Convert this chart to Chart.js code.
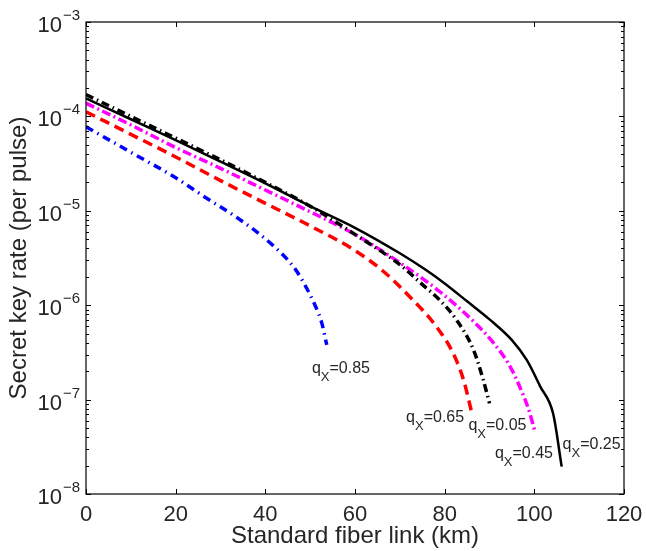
<!DOCTYPE html>
<html>
<head>
<meta charset="utf-8">
<title>Secret key rate vs fiber length</title>
<script src="https://cdn.jsdelivr.net/npm/chart.js@4.4.1/dist/chart.umd.min.js"></script>
<style>
  html,body{margin:0;padding:0;background:#fff}
  #wrap{width:646px;height:551px;position:relative}
</style>
</head>
<body>
<div id="wrap"><canvas id="c"></canvas></div>
<script>
'use strict';

// ─── Data ─────────────────────────────────────────────────────────────────────
const km025   = [0, 10, 20, 30, 40, 50, 60, 70, 75.6, 80, 85, 90, 95, 98.3, 101.3, 104.2, 106.1];
const rate025 = [1.55e-4, 9.33e-5, 5.62e-5, 3.31e-5, 1.95e-5, 1.12e-5, 6.61e-6, 3.55e-6, 2.40e-6, 1.70e-6, 1.10e-6, 7.08e-7, 4.27e-7, 2.63e-7, 1.38e-7, 7.08e-8, 1.95e-8];

const km005   = [0, 10, 20, 30, 40, 50, 60, 70, 75, 79, 82.7, 86.4, 88.6, 90];
const rate005 = [1.70e-4, 1.00e-4, 5.89e-5, 3.47e-5, 2.00e-5, 1.12e-5, 5.62e-6, 2.69e-6, 1.66e-6, 1.12e-6, 6.92e-7, 3.39e-7, 1.62e-7, 9.12e-8];

const km045   = [0, 10, 20, 30, 40, 50, 60, 70, 79, 86.4, 90.9, 94.6, 96.8, 98.7, 100.2];
const rate045 = [1.38e-4, 8.13e-5, 4.68e-5, 2.82e-5, 1.66e-5, 9.77e-6, 5.62e-6, 2.82e-6, 1.38e-6, 6.76e-7, 3.98e-7, 2.24e-7, 1.35e-7, 7.94e-8, 4.47e-8];

const km065   = [0, 10, 20, 30, 40, 50, 60, 66.3, 72, 78.2, 81.9, 84.2, 86];
const rate065 = [1.12e-4, 6.46e-5, 3.72e-5, 2.09e-5, 1.20e-5, 6.92e-6, 3.80e-6, 2.29e-6, 1.26e-6, 5.89e-7, 3.09e-7, 1.62e-7, 7.41e-8];

const km085   = [0, 10, 20, 27, 33, 38.8, 42, 44.8, 47, 49, 51, 52.6, 53.7];
const rate085 = [7.76e-5, 4.17e-5, 2.24e-5, 1.35e-5, 8.91e-6, 5.62e-6, 4.17e-6, 3.09e-6, 2.29e-6, 1.58e-6, 1.02e-6, 6.46e-7, 3.80e-7];

const xTicks = [0, 20, 40, 60, 80, 100, 120];
const yExps  = [-3, -4, -5, -6, -7, -8];

// curve labels: [qX value, km, rate] (left edge / baseline of the text)
const curveLabels = [
  ['0.85', 50.4, 1.90e-7],
  ['0.65', 71.4, 5.83e-8],
  ['0.05', 85.3, 4.77e-8],
  ['0.45', 91.2, 2.43e-8],
  ['0.25', 106.3, 2.97e-8]
];

const xTitle = 'Standard fiber link (km)';
const yTitle = 'Secret key rate (per pulse)';

// ─── Helpers ──────────────────────────────────────────────────────────────────
const pts = (xs, ys) => xs.map((x, i) => ({x, y: ys[i]}));
const FONT = '"Liberation Sans", Arial, Helvetica, sans-serif';
const TXT = '#262626';

const line = (data, color, dash, width) => ({
  data, borderColor: color, borderWidth: width, borderDash: dash,
  pointRadius: 0, cubicInterpolationMode: 'monotone', fill: false, borderCapStyle: 'butt'
});

// ─── Frame / ticks / text plugin ──────────────────────────────────────────────
const frame = {
  id: 'frame',
  afterDatasetsDraw(chart) {
    const {ctx, chartArea: a, scales: {x, y}} = chart;
    ctx.save();
    ctx.strokeStyle = '#000';
    ctx.lineWidth = 1.2;
    ctx.strokeRect(a.left, a.top, a.right - a.left, a.bottom - a.top);

    ctx.beginPath();
    xTicks.forEach(v => {
      const px = Math.round(x.getPixelForValue(v)) + .5;
      ctx.moveTo(px, a.bottom); ctx.lineTo(px, a.bottom - 5);
      ctx.moveTo(px, a.top); ctx.lineTo(px, a.top + 5);
    });
    for (let e = -8; e <= -3; e++) {
      for (let m = 1; m <= 9; m++) {
        if (e === -3 && m > 1) break;
        const py = Math.round(y.getPixelForValue(m * Math.pow(10, e))) + .5;
        const len = m === 1 ? 5 : 3;
        ctx.moveTo(a.left, py); ctx.lineTo(a.left + len, py);
        ctx.moveTo(a.right, py); ctx.lineTo(a.right - len, py);
      }
    }
    ctx.lineWidth = 1;
    ctx.stroke();

    // tick labels
    ctx.fillStyle = TXT;
    ctx.font = '22px ' + FONT;
    ctx.textAlign = 'center';
    ctx.textBaseline = 'top';
    xTicks.forEach(v => ctx.fillText(String(v), x.getPixelForValue(v), a.bottom + 10));

    yExps.forEach(e => {
      const py = y.getPixelForValue(Math.pow(10, e));
      const sup = '\u2212' + Math.abs(e);
      ctx.font = '15px ' + FONT;
      const sw = ctx.measureText(sup).width;
      ctx.textAlign = 'right';
      ctx.textBaseline = 'alphabetic';
      ctx.fillText(sup, a.left - 6, py - 2);
      ctx.font = '22px ' + FONT;
      ctx.fillText('10', a.left - 7 - sw, py + 10);
    });

    // axis titles
    ctx.font = '24px ' + FONT;
    ctx.textAlign = 'center';
    ctx.textBaseline = 'middle';
    ctx.fillText(xTitle, (a.left + a.right) / 2, 536);
    ctx.save();
    ctx.translate(19, (a.top + a.bottom) / 2);
    ctx.rotate(-Math.PI / 2);
    ctx.fillText(yTitle, 0, 0);
    ctx.restore();

    // curve labels q_X=...
    ctx.textAlign = 'left';
    ctx.textBaseline = 'alphabetic';
    curveLabels.forEach(([q, k, r]) => {
      let px = x.getPixelForValue(k);
      const py = y.getPixelForValue(r);
      ctx.font = '16px ' + FONT;
      ctx.fillText('q', px, py);
      px += ctx.measureText('q').width;
      ctx.font = '13px ' + FONT;
      ctx.fillText('X', px, py + 8);
      px += ctx.measureText('X').width;
      ctx.font = '16px ' + FONT;
      ctx.fillText('=' + q, px, py);
    });
    ctx.restore();
  }
};

// ─── Chart ────────────────────────────────────────────────────────────────────
new Chart(document.getElementById('c').getContext('2d'), {
  type: 'line',
  data: {
    datasets: [
      {...line(pts(km005, rate005), '#000000', [8, 4, 1.5, 4], 3.5), order: 0},
      {...line(pts(km025, rate025), '#000000', [], 2.5), order: 1},
      {...line(pts(km045, rate045), '#ff00ff', [9, 3.5, 2, 3.5], 3.5), order: 2},
      {...line(pts(km065, rate065), '#ff0000', [10, 6], 3.5), order: 3},
      {...line(pts(km085, rate085), '#0000ff', [8, 5, 1.5, 5], 3.5), order: 4}
    ]
  },
  options: {
    responsive: true,
    maintainAspectRatio: false,
    animation: false,
    parsing: false,
    layout: {padding: {left: 86, top: 22, right: 22, bottom: 57}},
    scales: {
      x: {type: 'linear', min: 0, max: 120, display: false},
      y: {type: 'logarithmic', min: 1e-8, max: 1e-3, display: false}
    },
    plugins: {legend: {display: false}, tooltip: {enabled: false}}
  },
  plugins: [frame]
});
</script>
</body>
</html>
